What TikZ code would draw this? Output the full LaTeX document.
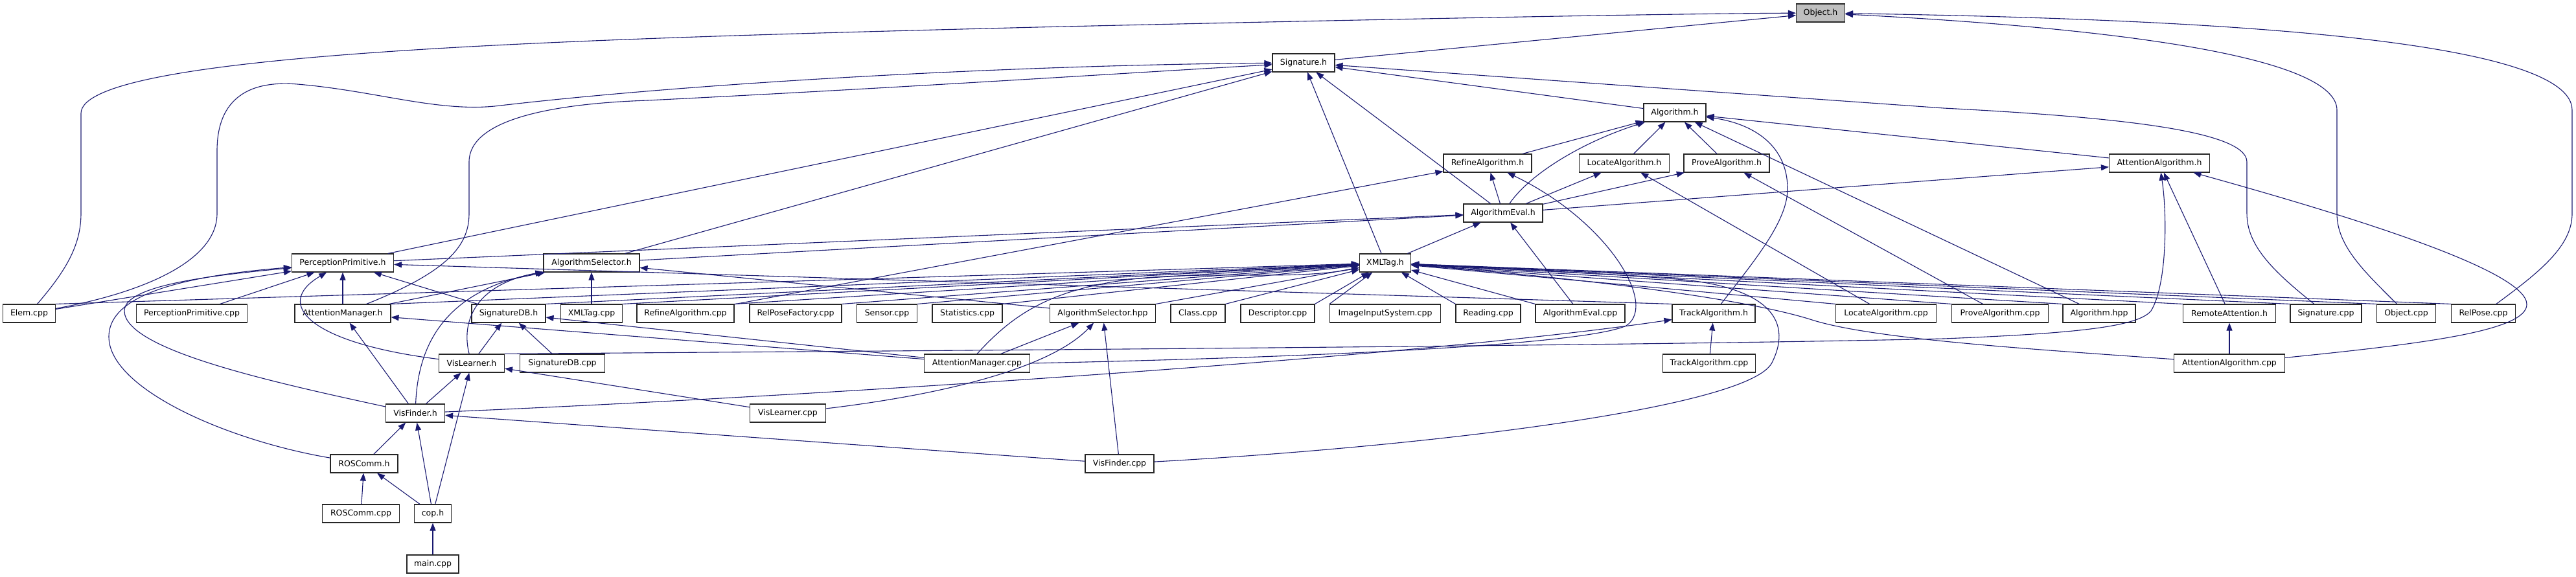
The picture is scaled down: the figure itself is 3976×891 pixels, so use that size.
\documentclass[tikz,border=0pt]{standalone}
\usepackage{fontspec}
\setmainfont{DejaVu Sans}
\usepackage{xcolor}
\usepackage{tikz}
\usetikzlibrary{arrows.meta}
\definecolor{depblue}{HTML}{191970}
\definecolor{rootgray}{HTML}{BFBFBF}

\begin{document}
\begin{tikzpicture}[x=1pt, y=-1pt, font=\fontsize{12.5}{14}\selectfont,
    hfile/.style={draw=black!85, fill=white, line width=1.1pt, minimum height=28pt, inner sep=0pt},
    incl/.style={draw=depblue, line width=1.1pt, -{Triangle[length=12pt,width=9pt]}}]
  \useasboundingbox (0,0) rectangle (3976,891);
  \node[hfile, fill=rootgray, minimum width=75pt] (obj) at (2810,20) {Object.h};
  \node[hfile, minimum width=96pt] (sig) at (2012,97) {Signature.h};
  \node[hfile, minimum width=96pt] (alg) at (2585,174) {Algorithm.h};
  \node[hfile, minimum width=136pt] (refh) at (2296,252) {RefineAlgorithm.h};
  \node[hfile, minimum width=139pt] (loch) at (2507,252) {LocateAlgorithm.h};
  \node[hfile, minimum width=132pt] (proh) at (2665,252) {ProveAlgorithm.h};
  \node[hfile, minimum width=155pt] (atth) at (3333,252) {AttentionAlgorithm.h};
  \node[hfile, minimum width=122pt] (eval) at (2320,329) {AlgorithmEval.h};
  \node[hfile, minimum width=157pt] (pph) at (529,406) {PerceptionPrimitive.h};
  \node[hfile, minimum width=148pt] (ash) at (913,406) {AlgorithmSelector.h};
  \node[hfile, minimum width=79pt] (xmlh) at (2138,406) {XMLTag.h};
  \node[hfile, minimum width=81pt] (elem) at (45,484) {Elem.cpp};
  \node[hfile, minimum width=171pt] (ppcpp) at (296,484) {PerceptionPrimitive.cpp};
  \node[hfile, minimum width=148pt] (amh) at (529,484) {AttentionManager.h};
  \node[hfile, minimum width=114pt] (sdbh) at (785,484) {SignatureDB.h};
  \node[hfile, minimum width=95pt] (xmlcpp) at (913,484) {XMLTag.cpp};
  \node[hfile, minimum width=150pt] (refcpp) at (1058,484) {RefineAlgorithm.cpp};
  \node[hfile, minimum width=142pt] (rpf) at (1228,484) {RelPoseFactory.cpp};
  \node[hfile, minimum width=93pt] (sensor) at (1369,484) {Sensor.cpp};
  \node[hfile, minimum width=108pt] (stats) at (1493,484) {Statistics.cpp};
  \node[hfile, minimum width=163pt] (ashpp) at (1702,484) {AlgorithmSelector.hpp};
  \node[hfile, minimum width=84pt] (clscpp) at (1849,484) {Class.cpp};
  \node[hfile, minimum width=114pt] (desc) at (1972,484) {Descriptor.cpp};
  \node[hfile, minimum width=171pt] (iis) at (2138,484) {ImageInputSystem.cpp};
  \node[hfile, minimum width=100pt] (reading) at (2297,484) {Reading.cpp};
  \node[hfile, minimum width=138pt] (evalcpp) at (2439,484) {AlgorithmEval.cpp};
  \node[hfile, minimum width=128pt] (trackh) at (2645,484) {TrackAlgorithm.h};
  \node[hfile, minimum width=155pt] (loccpp) at (2911,484) {LocateAlgorithm.cpp};
  \node[hfile, minimum width=149pt] (procpp) at (3087,484) {ProveAlgorithm.cpp};
  \node[hfile, minimum width=112pt] (alghpp) at (3240,484) {Algorithm.hpp};
  \node[hfile, minimum width=143pt] (remote) at (3441,484) {RemoteAttention.h};
  \node[hfile, minimum width=110pt] (sigcpp) at (3590,484) {Signature.cpp};
  \node[hfile, minimum width=91pt] (objcpp) at (3714,484) {Object.cpp};
  \node[hfile, minimum width=99pt] (relpose) at (3833,484) {RelPose.cpp};
  \node[hfile, minimum width=101pt] (vlh) at (728,561) {VisLearner.h};
  \node[hfile, minimum width=131pt] (sdbcpp) at (868,561) {SignatureDB.cpp};
  \node[hfile, minimum width=163pt] (amcpp) at (1508,561) {AttentionManager.cpp};
  \node[hfile, minimum width=143pt] (trackcpp) at (2638,561) {TrackAlgorithm.cpp};
  \node[hfile, minimum width=171pt] (attcpp) at (3441,561) {AttentionAlgorithm.cpp};
  \node[hfile, minimum width=91pt] (vfh) at (641,638) {VisFinder.h};
  \node[hfile, minimum width=117pt] (vlcpp) at (1216,638) {VisLearner.cpp};
  \node[hfile, minimum width=104pt] (rosh) at (562,716) {ROSComm.h};
  \node[hfile, minimum width=106pt] (vfcpp) at (1728,716) {VisFinder.cpp};
  \node[hfile, minimum width=119pt] (roscpp) at (557,793) {ROSComm.cpp};
  \node[hfile, minimum width=57pt] (coph) at (668,793) {cop.h};
  \node[hfile, minimum width=80pt] (main) at (668,871) {main.cpp};

  \path[incl] (sig) -- (obj);
  \foreach \s in {pph,ash,xmlh,eval,alg}
    \path[incl] (\s) -- (sig);
  \foreach \s in {refh,loch,proh,atth,alghpp}
    \path[incl] (\s) -- (alg);
  \foreach \s in {eval,refcpp}
    \path[incl] (\s) -- (refh);
  \foreach \s in {eval,loccpp}
    \path[incl] (\s) -- (loch);
  \foreach \s in {eval,procpp}
    \path[incl] (\s) -- (proh);
  \foreach \s in {eval,remote}
    \path[incl] (\s) -- (atth);
  \foreach \s in {pph,ash,xmlh,evalcpp}
    \path[incl] (\s) -- (eval);
  \foreach \s in {elem,ppcpp,amh,sdbh,trackh.north west}
    \path[incl] (\s) -- (pph);
  \foreach \s in {amh,xmlcpp,ashpp}
    \path[incl] (\s) -- (ash);
  \foreach \s in {elem,amh,sdbh,xmlcpp,refcpp,rpf,sensor,stats,ashpp,clscpp,desc}
    \path[incl] (\s.north east) -- (xmlh);
  \foreach \s in {iis,reading,evalcpp,loccpp,procpp,alghpp,remote,sigcpp,objcpp,relpose}
    \path[incl] (\s.north west) -- (xmlh);
  \foreach \s in {vfh,amcpp}
    \path[incl] (\s) -- (amh);
  \foreach \s in {vlh,sdbcpp,amcpp}
    \path[incl] (\s) -- (sdbh);
  \foreach \s in {amcpp,vfcpp}
    \path[incl] (\s) -- (ashpp);
  \foreach \s in {vfh,vlcpp,coph}
    \path[incl] (\s) -- (vlh);
  \foreach \s in {rosh,coph,vfcpp}
    \path[incl] (\s) -- (vfh);
  \foreach \s in {roscpp,coph}
    \path[incl] (\s) -- (rosh);
  \path[incl] (main) -- (coph);
  \path[incl] (trackcpp) -- (trackh);
  \path[incl] (attcpp) -- (remote);

  \path[incl] (elem) .. controls (100,420) and (125,380) .. (125,330) -- (125,175)
    .. controls (125,80) and (900,60) .. (1600,42) .. controls (2200,28) and (2600,21) .. (obj);
  \path[incl] (elem) .. controls (230,450) and (335,400) .. (335,330) -- (335,233)
    .. controls (335,140) and (400,125) .. (459,130) .. controls (580,140) and (680,175) .. (772,163)
    .. controls (1100,125) and (1600,100) .. (sig);
  \path[incl] (amh) .. controls (690,420) and (724,380) .. (724,330) -- (724,250)
    .. controls (724,185) and (850,160) .. (1000,155) .. controls (1400,135) and (1750,112) .. (sig);
  \path[incl] (objcpp) .. controls (3650,420) and (3607,380) .. (3607,330) -- (3607,170)
    .. controls (3607,80) and (3200,40) .. (obj);
  \path[incl] (relpose) .. controls (3920,420) and (3970,380) .. (3970,330) -- (3970,170)
    .. controls (3970,50) and (3300,28) .. (obj);
  \path[incl] (sigcpp) .. controls (3510,420) and (3468,380) .. (3468,330) -- (3468,250)
    .. controls (3468,200) and (3250,180) .. (3000,167) -- (sig);
  \path[incl] (trackh) .. controls (2710,400) and (2760,340) .. (2759,290)
    .. controls (2758,220) and (2700,190) .. (alg);
  \path[incl] (eval) .. controls (2360,270) and (2440,220) .. (alg);
  \path[incl] (amcpp.east) .. controls (2100,550) and (2450,530) .. (2510,503)
    .. controls (2560,470) and (2480,340) .. (refh);
  \path[incl] (vfh) .. controls (1300,610) and (2200,550) .. (trackh);
  \path[incl] (vlh.north east) .. controls (1200,543) and (2500,535) .. (3000,523)
    .. controls (3200,515) and (3300,505) .. (3320,480) .. controls (3345,440) and (3345,330) .. (atth);
  \path[incl] (amcpp.north) .. controls (1560,490) and (1620,440) .. (1780,428)
    .. controls (1900,420) and (2000,432) .. (xmlh);
  \path[incl] (vfcpp) .. controls (2200,690) and (2700,630) .. (2735,560)
    .. controls (2770,490) and (2720,445) .. (2600,432) .. controls (2450,420) and (2300,415) .. (xmlh);
  \path[incl] (attcpp) .. controls (3750,530) and (3900,510) .. (3900,470)
    .. controls (3900,420) and (3650,340) .. (atth);
  \path[incl] (attcpp) .. controls (3150,540) and (2900,525) .. (2800,495)
    .. controls (2700,462) and (2450,430) .. (xmlh);
  \path[incl] (rosh) .. controls (350,680) and (168,600) .. (168,520)
    .. controls (168,450) and (300,425) .. (pph);
  \path[incl] (vfh) .. controls (420,590) and (192,540) .. (192,480)
    .. controls (192,440) and (330,425) .. (pph);
  \path[incl] (vlh) .. controls (480,530) and (420,470) .. (pph);
  \path[incl] (vfh) .. controls (645,540) and (680,450) .. (ash);
  \path[incl] (vlh) .. controls (712,500) and (730,440) .. (ash);
  \path[incl] (vlcpp) .. controls (1450,610) and (1620,570) .. (ashpp);
\end{tikzpicture}
\end{document}
